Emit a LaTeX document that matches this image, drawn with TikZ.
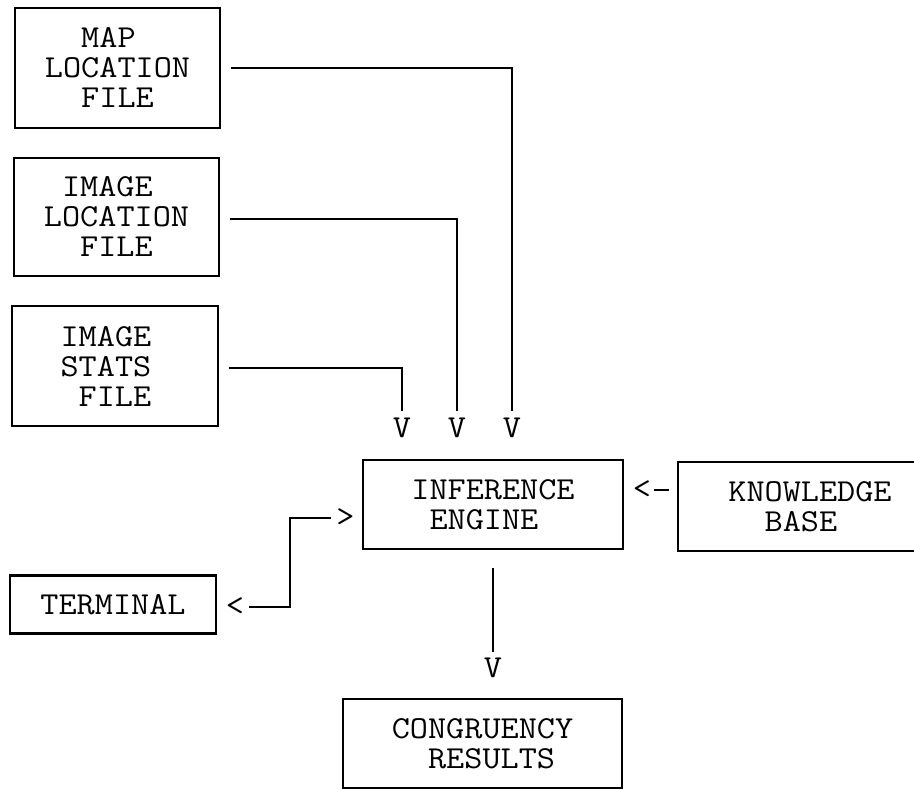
\documentclass[tikz,border=0pt]{standalone}
\usepackage{fontspec}
\setmonofont{Latin Modern Mono}[FakeStretch=1.1]
\begin{document}
\begin{tikzpicture}[x=1pt,y=-1pt,
  every node/.style={font=\ttfamily\fontsize{32}{30}\selectfont, inner sep=0pt},
  box/.style={draw, line width=2.4pt, align=left},
  wire/.style={line width=2pt},
  tip/.style={inner sep=0pt}]
\useasboundingbox[fill=white] (0,0) rectangle (914,789);
\clip (0,0) rectangle (914,789);

% source files on the left
\node[box, minimum width=205, minimum height=120] (map) at (117.5,68)
  {\phantom{MM}MAP\\LOCATION\\\phantom{MM}FILE};
\node[box, minimum width=205, minimum height=118] (imgloc) at (116.5,217)
  {\phantom{M}IMAGE\\LOCATION\\\phantom{MM}FILE};
\node[box, minimum width=206, minimum height=120] (imgstats) at (115,366)
  {\phantom{M}IMAGE\\\phantom{M}STATS\phantom{MM}\\\phantom{MM}FILE};

% central engine and its neighbours
\node[box, minimum width=260, minimum height=89] (engine) at (493,504.5)
  {INFERENCE\\\phantom{M}ENGINE};
\node[box, minimum width=264, minimum height=89] (kb) at (810,506.5)
  {KNOWLEDGE\\\phantom{MM}BASE};
\node[box, minimum width=206, minimum height=58] (term) at (113,604.5)
  {TERMINAL};
\node[box, minimum width=279, minimum height=89] (cong) at (482.5,743.5)
  {CONGRUENCY\\\phantom{MM}RESULTS};

% typed arrow heads
\node[tip] (v1) at (402,428) {V};
\node[tip] (v2) at (457,428) {V};
\node[tip] (v3) at (512,428) {V};
\node[tip] (vc) at (493,668) {V};
\node[tip] (lkb) at (642,490) {<};
\node[tip] (rin) at (345.5,518) {>};
\node[tip] (lterm) at (235,607) {<};

% file inputs into the engine
\draw[wire, shorten >=7pt] ([xshift=10pt]map.east) -| (v3.north);
\draw[wire, shorten >=7pt] ([xshift=10pt]imgloc.east |- 0,219) -| (v2.north);
\draw[wire, shorten >=7pt] ([xshift=10pt]imgstats.east |- 0,368) -| (v1.north);

% engine to results
\draw[wire, shorten >=6pt] ([yshift=-18pt]engine.south -| vc) -- (vc.north);

% knowledge base to engine
\draw[wire] ([xshift=-8pt]kb.west |- lkb) -- ([xshift=3pt]lkb.east);

% terminal dialogue with the engine
\draw[wire] ([xshift=-5pt]rin.west) -| (290,607) -- ([xshift=5pt]lterm.east);
\end{tikzpicture}
\end{document}
